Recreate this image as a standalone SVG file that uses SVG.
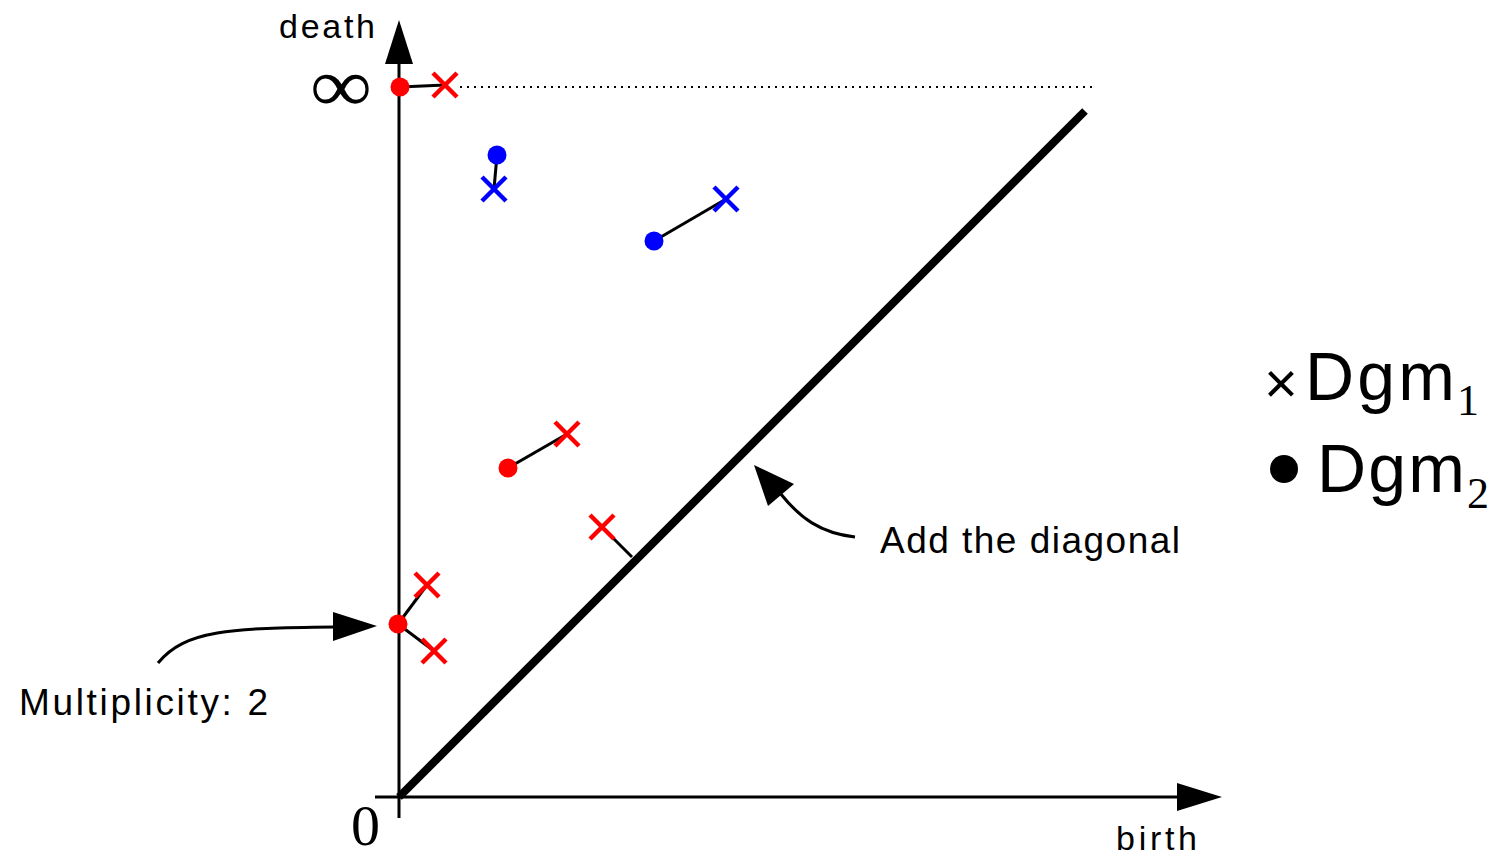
<svg xmlns="http://www.w3.org/2000/svg" width="1496" height="857" viewBox="0 0 1496 857">
<defs>
<style>
.ax{stroke:#000;stroke-width:3;fill:none}
.lk{stroke:#000;stroke-width:3;fill:none}
.xr{stroke:#f00;stroke-width:4.5}
.xb{stroke:#00f;stroke-width:4.5}
.sans{font-family:"Liberation Sans","DejaVu Sans",sans-serif;fill:#000}
.serif{font-family:"Liberation Serif","DejaVu Serif",serif;fill:#000}
</style>
</defs>
<rect width="1496" height="857" fill="#fff"/>
<g id="axes">
<line class="ax" x1="399" y1="818" x2="399" y2="60"/>
<polygon points="399,20 385,64 413,64" fill="#000"/>
<line class="ax" x1="375" y1="797" x2="1180" y2="797"/>
<polygon points="1222,797 1177,783 1177,811" fill="#000"/>
<line x1="399" y1="797" x2="1085" y2="111" stroke="#000" stroke-width="8"/>
<line x1="460" y1="87" x2="1093" y2="87" stroke="#000" stroke-width="2" stroke-dasharray="2,5"/>
</g>
<g id="connectors">
<line class="lk" x1="400" y1="87" x2="445" y2="85"/>
<line class="lk" x1="497" y1="155" x2="494" y2="189"/>
<line class="lk" x1="654" y1="241" x2="726" y2="199"/>
<line class="lk" x1="508" y1="468" x2="567" y2="434"/>
<line class="lk" x1="602" y1="527" x2="632" y2="557"/>
<line class="lk" x1="398" y1="624" x2="427" y2="585"/>
<line class="lk" x1="398" y1="624" x2="434" y2="651"/>
<path class="lk" d="M158,663 C185,630 230,628 335,627"/>
<polygon points="377,626 333,612 333,641" fill="#000"/>
<path class="lk" d="M855,537 C820,533 800,518 780,493"/>
<polygon points="754,465 768,506 794,484" fill="#000"/>
</g>
<g id="points">
<circle cx="400" cy="87" r="9.5" fill="#f00"/>
<path class="xr" d="M433,73 L457,97 M457,73 L433,97"/>
<circle cx="497" cy="155" r="9.5" fill="#00f"/>
<path class="xb" d="M482,177 L506,201 M506,177 L482,201"/>
<circle cx="654" cy="241" r="9.5" fill="#00f"/>
<path class="xb" d="M714,187 L738,211 M738,187 L714,211"/>
<circle cx="508" cy="468" r="9.5" fill="#f00"/>
<path class="xr" d="M555,422 L579,446 M579,422 L555,446"/>
<path class="xr" d="M590,515 L614,539 M614,515 L590,539"/>
<circle cx="398" cy="624" r="9.5" fill="#f00"/>
<path class="xr" d="M415,573 L439,597 M439,573 L415,597"/>
<path class="xr" d="M422,639 L446,663 M446,639 L422,663"/>
</g>
<g id="labels">
<text class="sans" x="279" y="38" font-size="34" textLength="96">death</text>
<text class="serif" x="310" y="111" font-size="76" textLength="62" lengthAdjust="spacingAndGlyphs">∞</text>
<text class="serif" x="351" y="845" font-size="58">0</text>
<text class="sans" x="1116" y="850" font-size="34" textLength="81">birth</text>
<text class="sans" x="19" y="715" font-size="37" textLength="249">Multiplicity: 2</text>
<text class="sans" x="880" y="553" font-size="37" textLength="300">Add the diagonal</text>
</g>
<g id="legend">
<text class="sans" x="1264" y="403" font-size="58">×</text>
<text class="sans" x="1305" y="400" font-size="68" textLength="150">Dgm</text>
<text class="serif" x="1457" y="415" font-size="44">1</text>
<circle cx="1284" cy="469" r="14" fill="#000"/>
<text class="sans" x="1317" y="492" font-size="68" textLength="148">Dgm</text>
<text class="serif" x="1467" y="508" font-size="44">2</text>
</g>
</svg>
